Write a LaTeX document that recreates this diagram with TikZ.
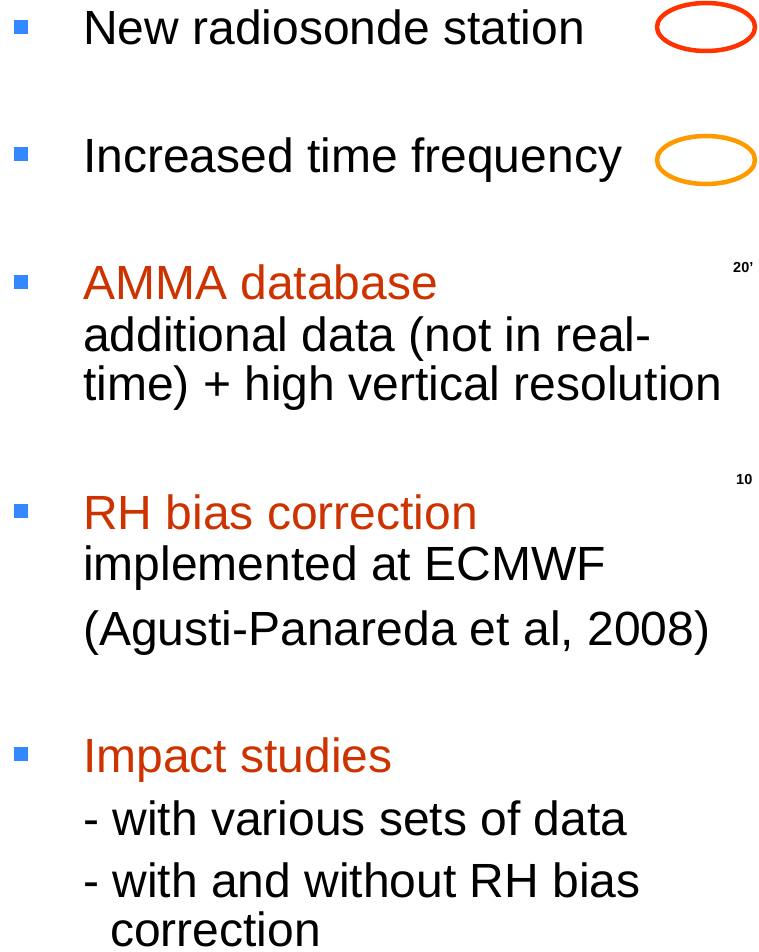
\documentclass[tikz,border=0pt]{standalone}
\usepackage{fontspec}
\setmainfont{Liberation Sans}
\definecolor{hdred}{RGB}{204,51,0}
\definecolor{bulletblue}{RGB}{51,136,255}
\definecolor{ringred}{RGB}{255,51,0}
\definecolor{ringorange}{RGB}{255,153,0}
\begin{document}
\begin{tikzpicture}[x=1pt,y=-1pt,
  txt/.style={anchor=base west,inner sep=0pt,font=\fontsize{48}{48}\selectfont},
  head/.style={txt,text=hdred},
  bul/.style={fill=bulletblue,draw=none},
  ring/.style={line width=4.5pt},
  tick/.style={anchor=base west,inner sep=0pt,font=\fontsize{14.5}{14.5}\selectfont\bfseries}]
\useasboundingbox (0,0) rectangle (758,952);
% bullets
\fill[bul] (14,20) rectangle (28,34);
\fill[bul] (14,147) rectangle (28,161);
\fill[bul] (14,275) rectangle (28,289);
\fill[bul] (14,504) rectangle (28,518);
\fill[bul] (14,747) rectangle (28,761);
% texts
\node[txt] (t1) at (83,45) {New radiosonde station};
\node[txt] (t2) at (83,173) {Increased time frequency};
\node[head] (t3) at (83,299) {AMMA database};
\node[txt] (t3a) at (83,351) {additional data (not in real-};
\node[txt] (t3b) at (83,400) {time) + high vertical resolution};
\node[head] (t4) at (83,529) {RH bias correction};
\node[txt] (t4a) at (83,580) {implemented at ECMWF};
\node[txt] (t4b) at (83,645) {(Agusti-Panareda et al, 2008)};
\node[head] (t5) at (83,772) {Impact studies};
\node[txt] (t5a) at (83,835) {- with various sets of data};
\node[txt] (t5b) at (83,897) {- with and without RH bias};
\node[txt] (t5c) at (110,946) {correction};
% rings
\draw[ring,ringred] (706,27) ellipse [x radius=49, y radius=24];
\draw[ring,ringorange] (706,160) ellipse [x radius=49, y radius=24];
% axis labels (cut off at the edge)
\node[tick] (l20) at (733,272) {20\char39};
\node[tick] (l10) at (736,484) {10};
\end{tikzpicture}
\end{document}
